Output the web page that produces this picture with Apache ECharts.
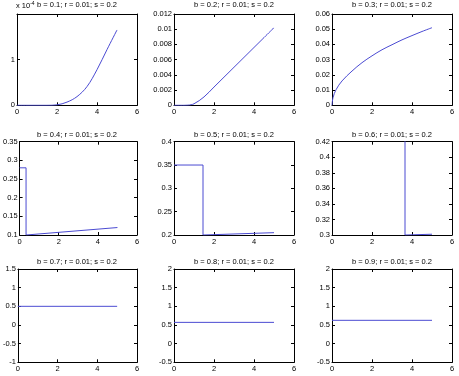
<!DOCTYPE html>
<html><head><meta charset="utf-8">
<script src="https://cdn.jsdelivr.net/npm/echarts@6/dist/echarts.min.js"></script>
<style>html,body{margin:0;padding:0;background:#fff}#c{width:459px;height:376px}</style>
</head><body><div id="c"></div>
<script>
// Titles
const titles = ['b = 0.1; r = 0.01; s = 0.2','b = 0.2; r = 0.01; s = 0.2','b = 0.3; r = 0.01; s = 0.2',
                'b = 0.4; r = 0.01; s = 0.2','b = 0.5; r = 0.01; s = 0.2','b = 0.6; r = 0.01; s = 0.2',
                'b = 0.7; r = 0.01; s = 0.2','b = 0.8; r = 0.01; s = 0.2','b = 0.9; r = 0.01; s = 0.2'];
// Series data (x, y) per panel
const x1 = [0, 0.5, 1, 1.5, 2, 2.5, 3, 3.5, 4, 4.5, 5];
const y1 = [0, 0, 0, 0, 0.01, 0.07, 0.19, 0.41, 0.78, 1.22, 1.65]; // units of 1e-4
const x2 = [0, 0.5, 0.7, 1, 1.5, 2, 2.5, 3, 3.5, 4, 4.5, 5];
const y2 = [0, 0, 0.00002, 0.0002, 0.0011, 0.0024, 0.0037, 0.0050, 0.0063, 0.0076, 0.0089, 0.0102];
const x3 = [0, 0.05, 0.2, 0.5, 1, 1.5, 2, 2.5, 3, 3.5, 4, 4.5, 5];
const y3 = [0, 0.005, 0.0102, 0.016, 0.0225, 0.028, 0.0325, 0.0365, 0.0398, 0.043, 0.0458, 0.0485, 0.051];
const x4 = [0, 0.33, 0.33, 5];
const y4 = [0.28, 0.28, 0.1, 0.12];
const x5 = [0, 1.45, 1.45, 5];
const y5 = [0.35, 0.35, 0.2, 0.205];
const x6 = [0, 3.65, 3.65, 5];
const y6 = [0.5, 0.5, 0.3, 0.301];
const x7 = [0, 5];
const y7 = [0.5, 0.5];
const x8 = [0, 5];
const y8 = [0.57, 0.57];
const x9 = [0, 5];
const y9 = [0.625, 0.625];
// Axis ranges
const xTicks = {min: 0, max: 6, interval: 2};
const yMin = [0, 0, 0, 0.1, 0.2, 0.3, -1, -0.5, -0.5];
const yMax = [2, 0.012, 0.06, 0.35, 0.4, 0.42, 1.5, 2, 2];
const yInt = [1, 0.002, 0.01, 0.05, 0.05, 0.02, 0.5, 0.5, 0.5];

const xs = [x1,x2,x3,x4,x5,x6,x7,x8,x9];
const ys = [y1,y2,y3,y4,y5,y6,y7,y8,y9];

const colL = [17, 174, 332];
const rowT = [14, 141.7, 269];
const rowH = [91.3, 93.3, 93.3];
const W = 120;
const titleTop = [1, 130.5, 257.5];
const FONT = 'Liberation Sans, Arial, sans-serif';
const FS = 7.5;

const grid = [], xAxis = [], yAxis = [], series = [], title = [];
function fmt(v){ return String(parseFloat(v.toFixed(6))); }
for (let i = 0; i < 9; i++) {
  const r = Math.floor(i/3), c = i%3;
  grid.push({left: colL[c], top: rowT[r], width: W, height: rowH[r], containLabel: false});
  const common = {axisLine:{show:true,onZero:false,lineStyle:{color:'#000',width:1}},
    axisTick:{show:true,inside:true,length:3,lineStyle:{color:'#000'}}, splitLine:{show:false}};
  xAxis.push(Object.assign({type:'value', gridIndex:i, position:'bottom', min:xTicks.min, max:xTicks.max, interval:xTicks.interval,
    axisLabel:{show:true, margin:3, fontSize:FS, fontFamily:FONT, color:'#000'}}, common));
  xAxis.push(Object.assign({type:'value', gridIndex:i, position:'top', min:xTicks.min, max:xTicks.max, interval:xTicks.interval,
    axisLabel:{show:false}}, common));
  const isFirst = i === 0;
  yAxis.push(Object.assign({type:'value', gridIndex:i, position:'left', min:yMin[i], max:yMax[i], interval:yInt[i],
    axisLabel:{show:true, margin:2, fontSize:FS, fontFamily:FONT, color:'#000',
      formatter: (v) => (isFirst && Math.abs(v-2)<1e-9) ? '' : fmt(v)}}, common));
  yAxis.push(Object.assign({type:'value', gridIndex:i, position:'right', min:yMin[i], max:yMax[i], interval:yInt[i],
    axisLabel:{show:false}}, common));
  const curved = i < 3;
  series.push({type:'line', xAxisIndex:2*i, yAxisIndex:2*i, showSymbol:false, symbol:'none', clip:true,
    smooth: curved ? 0.35 : false,
    lineStyle:{color:'#4b4bd2', width:1}, data: xs[i].map((x,k)=>[x, ys[i][k]]), animation:false});
  title.push({text: titles[i], left: colL[c] + W/2, top: titleTop[r], textAlign:'center', padding:0,
    textStyle:{fontSize:FS, fontWeight:'normal', fontFamily:FONT, color:'#000'}});
}

const chart = echarts.init(document.getElementById('c'), null, {renderer:'canvas'});
chart.setOption({
  animation:false, backgroundColor:'#fff',
  title, grid, xAxis, yAxis, series,
  graphic:[{type:'text', left:16, top:1.5, style:{text:'x 10{s|-4}', rich:{s:{fontSize:5, verticalAlign:'top', fontFamily:FONT, padding:[0,0,4,0]}}, fontSize:FS, fontFamily:FONT, fill:'#000'}}]
});
</script></body></html>
